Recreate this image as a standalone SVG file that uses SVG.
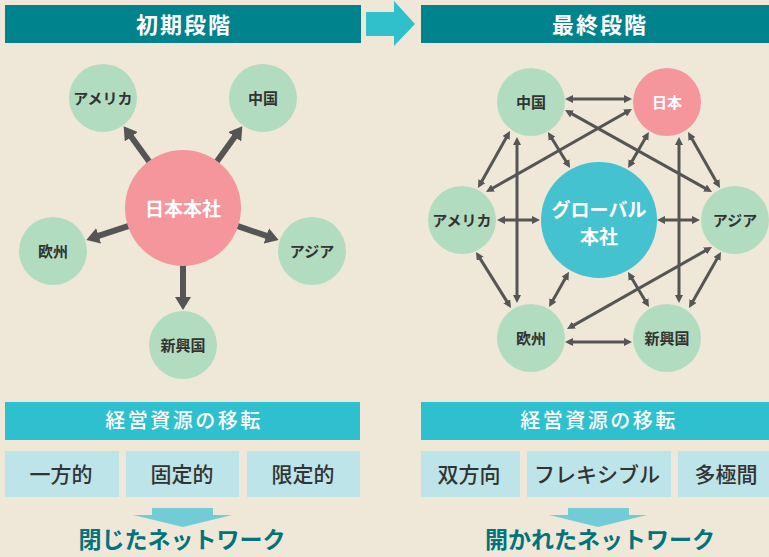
<svg xmlns="http://www.w3.org/2000/svg" width="769" height="557" viewBox="0 0 769 557">
<style>
text{font-family:"Noto Sans CJK JP","Noto Sans",sans-serif;text-anchor:middle}
.hdr{fill:#00838c}
.hdrt{fill:#fff;font-size:22px;font-weight:700;letter-spacing:2px}
.green{fill:#b2dcc0}
.lbl{fill:#333;font-size:15px;font-weight:700}
.bar{fill:#2ec0ce}
.bart{fill:#fff;font-size:20px;font-weight:500;letter-spacing:2.5px}
.cell{fill:#bde4e8}
.cellt{fill:#333;font-size:21px;font-weight:500}
.down{fill:#72ccd8}
.net{fill:#00737c;font-size:23px;font-weight:700}
.thick{stroke:#555;stroke-width:6;fill:none}
.thin{stroke:#555;stroke-width:3;fill:none}
</style>
<defs>
<marker id="big" markerUnits="userSpaceOnUse" viewBox="0 0 13 16" markerWidth="13" markerHeight="16" refX="1" refY="8" orient="auto">
<path d="M0,0 L13,8 L0,16 z" fill="#555"/>
</marker>
<marker id="sm" markerUnits="userSpaceOnUse" viewBox="0 0 8 8" markerWidth="8" markerHeight="8" refX="1" refY="4" orient="auto-start-reverse">
<path d="M0,0 L8,4 L0,8 z" fill="#555"/>
</marker>
</defs>
<rect width="769" height="557" fill="#efe8d8"/>

<g id="header-left"><rect class="hdr" x="5" y="5" width="356" height="38"/><text class="hdrt" x="184" y="33">初期段階</text></g>
<g id="header-arrow"><path d="M366,12 H394 V1 L415,24 L394,46 V36 H366 z" fill="#2fc0cc"/></g>
<g id="header-right"><rect class="hdr" x="421" y="5" width="348" height="38"/><text class="hdrt" x="600" y="33">最終段階</text></g>

<g id="connectors-left">
<line class="thick" x1="149.5" y1="161.9" x2="130.7" y2="136" marker-end="url(#big)"/>
<line class="thick" x1="216.5" y1="161.9" x2="235.3" y2="136" marker-end="url(#big)"/>
<line class="thick" x1="128.9" y1="225.9" x2="97.7" y2="236.2" marker-end="url(#big)"/>
<line class="thick" x1="237.1" y1="225.9" x2="267.3" y2="236.2" marker-end="url(#big)"/>
<line class="thick" x1="183" y1="265" x2="183" y2="298" marker-end="url(#big)"/>
</g>

<g id="node-hq"><circle cx="183" cy="208" r="58" fill="#f5969c"/><text x="183" y="216" fill="#fff" font-size="19" font-weight="700">日本本社</text></g>
<g id="node-l-america"><circle class="green" cx="103" cy="98" r="34"/><text class="lbl" x="103" y="103.5">アメリカ</text></g>
<g id="node-l-china"><circle class="green" cx="263" cy="98" r="34"/><text class="lbl" x="263" y="103.5">中国</text></g>
<g id="node-l-europe"><circle class="green" cx="53" cy="251" r="34"/><text class="lbl" x="53" y="256.5">欧州</text></g>
<g id="node-l-asia"><circle class="green" cx="312" cy="251" r="34"/><text class="lbl" x="312" y="256.5">アジア</text></g>
<g id="node-l-emerging"><circle class="green" cx="183" cy="345" r="34"/><text class="lbl" x="183" y="350.5">新興国</text></g>

<g id="connectors-right">
<line class="thin" x1="572" y1="99" x2="625" y2="99" marker-start="url(#sm)" marker-end="url(#sm)"/>
<line class="thin" x1="571.1" y1="113.4" x2="705.9" y2="188.6" marker-start="url(#sm)" marker-end="url(#sm)"/>
<line class="thin" x1="625.9" y1="112.5" x2="492.1" y2="188.5" marker-start="url(#sm)" marker-end="url(#sm)"/>
<line class="thin" x1="506.6" y1="137.1" x2="481.4" y2="181.9" marker-start="url(#sm)" marker-end="url(#sm)"/>
<line class="thin" x1="517" y1="144" x2="517" y2="296" marker-start="url(#sm)" marker-end="url(#sm)"/>
<line class="thin" x1="551.6" y1="138" x2="566.4" y2="162" marker-start="url(#sm)" marker-end="url(#sm)"/>
<line class="thin" x1="645.4" y1="138" x2="631.6" y2="162" marker-start="url(#sm)" marker-end="url(#sm)"/>
<line class="thin" x1="679" y1="144" x2="679" y2="296" marker-start="url(#sm)" marker-end="url(#sm)"/>
<line class="thin" x1="691.5" y1="138.1" x2="716.5" y2="181.9" marker-start="url(#sm)" marker-end="url(#sm)"/>
<line class="thin" x1="504" y1="220" x2="533" y2="220" marker-start="url(#sm)" marker-end="url(#sm)"/>
<line class="thin" x1="664" y1="220" x2="693" y2="220" marker-start="url(#sm)" marker-end="url(#sm)"/>
<line class="thin" x1="479.7" y1="257.9" x2="507.3" y2="302.1" marker-start="url(#sm)" marker-end="url(#sm)"/>
<line class="thin" x1="552.5" y1="300.9" x2="565.5" y2="277.9" marker-start="url(#sm)" marker-end="url(#sm)"/>
<line class="thin" x1="631.6" y1="278" x2="645.4" y2="301" marker-start="url(#sm)" marker-end="url(#sm)"/>
<line class="thin" x1="705.9" y1="250.4" x2="573.1" y2="325.6" marker-start="url(#sm)" marker-end="url(#sm)"/>
<line class="thin" x1="717.5" y1="258.1" x2="692.5" y2="301.9" marker-start="url(#sm)" marker-end="url(#sm)"/>
<line class="thin" x1="572" y1="342" x2="625" y2="342" marker-start="url(#sm)" marker-end="url(#sm)"/>
</g>

<g id="node-global"><circle cx="599" cy="220" r="58" fill="#45c2cf"/><text x="599" y="217" fill="#fff" font-size="19" font-weight="700">グローバル</text><text x="599" y="244" fill="#fff" font-size="19" font-weight="700">本社</text></g>
<g id="node-r-china"><circle class="green" cx="531" cy="102" r="34"/><text class="lbl" x="531" y="107.5">中国</text></g>
<g id="node-r-japan"><circle cx="667" cy="102" r="34" fill="#f5969c"/><text x="667" y="107.5" fill="#fff" font-size="15" font-weight="700">日本</text></g>
<g id="node-r-america"><circle class="green" cx="462" cy="220" r="34"/><text class="lbl" x="462" y="225.5">アメリカ</text></g>
<g id="node-r-asia"><circle class="green" cx="735" cy="220" r="34"/><text class="lbl" x="735" y="225.5">アジア</text></g>
<g id="node-r-europe"><circle class="green" cx="531" cy="338" r="34"/><text class="lbl" x="531" y="343.5">欧州</text></g>
<g id="node-r-emerging"><circle class="green" cx="667" cy="338" r="34"/><text class="lbl" x="667" y="343.5">新興国</text></g>

<g id="bar-left"><rect class="bar" x="5" y="402" width="355" height="38"/><text class="bart" x="184" y="428">経営資源の移転</text></g>
<g id="cell-l1"><rect class="cell" x="5" y="451" width="114" height="46"/><text class="cellt" x="61" y="481.5">一方的</text></g>
<g id="cell-l2"><rect class="cell" x="126" y="451" width="113" height="46"/><text class="cellt" x="182" y="481.5">固定的</text></g>
<g id="cell-l3"><rect class="cell" x="247" y="451" width="113" height="46"/><text class="cellt" x="303" y="481.5">限定的</text></g>
<g id="down-left"><path d="M152,508 H213 V515 H232 L183,527 L133,515 H152 z" class="down"/></g>
<g id="result-left"><text class="net" x="182" y="548">閉じたネットワーク</text></g>

<g id="bar-right"><rect class="bar" x="421" y="402" width="348" height="38"/><text class="bart" x="599" y="428">経営資源の移転</text></g>
<g id="cell-r1"><rect class="cell" x="421" y="451" width="99" height="46"/><text class="cellt" x="469" y="481.5">双方向</text></g>
<g id="cell-r2"><rect class="cell" x="527" y="451" width="144" height="46"/><text class="cellt" x="597" y="481.5">フレキシブル</text></g>
<g id="cell-r3"><rect class="cell" x="678" y="451" width="91" height="46"/><text class="cellt" x="726" y="481.5">多極間</text></g>
<g id="down-right"><path d="M568,508 H629 V515 H647 L598,527 L549,515 H568 z" class="down"/></g>
<g id="result-right"><text class="net" x="600" y="548">開かれたネットワーク</text></g>
</svg>
